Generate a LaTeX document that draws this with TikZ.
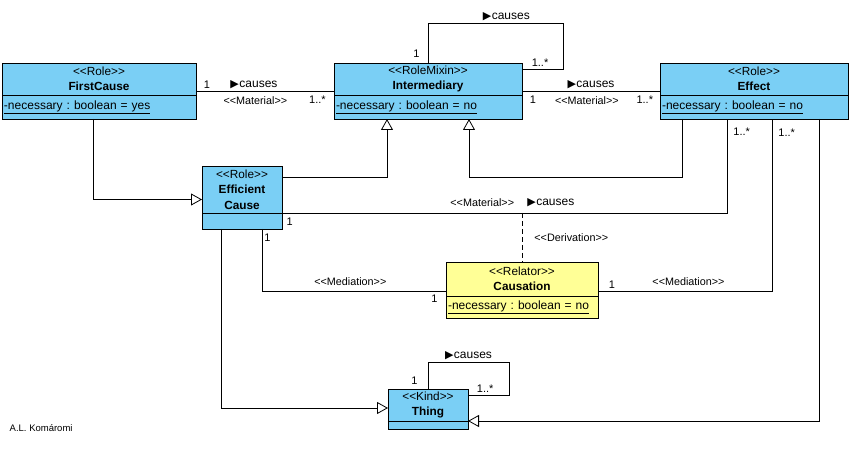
\documentclass[tikz,border=0pt]{standalone}
\usepackage{fontspec}
\setmainfont{Liberation Sans}
\newfontfamily\symfont{DejaVu Sans}
\usetikzlibrary{arrows.meta,positioning}
\definecolor{roleblue}{RGB}{122,207,245}
\definecolor{relatoryellow}{RGB}{255,255,150}
\newcommand{\stereo}[1]{<\kern0pt<#1>\kern0pt>}
\newcommand{\causes}{{\symfont\fontsize{11}{11}\selectfont ▶}\kern0.5pt causes}
\frenchspacing
\tikzset{
    head/.style={draw,fill=#1,anchor=north west,align=center,inner sep=1pt,outer sep=0pt,font=\fontsize{11.8}{15.5}\selectfont},
    head/.default=roleblue,
    attr/.style={draw,fill=#1,align=left,inner xsep=2pt,inner ysep=0pt,outer sep=0pt,font=\fontsize{12}{13}\selectfont},
    attr/.default=roleblue,
    gen/.style={-{Triangle[open,length=11pt,width=12pt]}},
    mult/.style={font=\fontsize{11}{12}\selectfont,inner sep=2pt},
    stlabel/.style={font=\fontsize{10.8}{12}\selectfont,inner sep=2pt},
    rel/.style={font=\fontsize{12}{13}\selectfont,inner sep=2pt}
}

\begin{document}
\begin{tikzpicture}[x=1pt,y=-1pt,line width=0.8pt]
    \useasboundingbox (0,0) rectangle (852,454);

    \node[head,minimum width=194,minimum height=32] (firstcause) at (2,63)
        {\stereo{Role}\\\textbf{FirstCause}};
    \node[attr,text width=190,minimum height=24,below=0pt of firstcause] (firstcause attr)
        {\underline{-necessary : boolean = yes}};

    \node[head,minimum width=188,minimum height=32] (inter) at (334,63)
        {\stereo{RoleMixin}\\\textbf{Intermediary}};
    \node[attr,text width=184,minimum height=24,below=0pt of inter] (inter attr)
        {\underline{-necessary : boolean = no}};

    \node[head,minimum width=188,minimum height=32] (effect) at (660,63)
        {\stereo{Role}\\\textbf{Effect}};
    \node[attr,text width=184,minimum height=24,below=0pt of effect] (effect attr)
        {\underline{-necessary : boolean = no}};

    \node[head,minimum width=80,minimum height=47] (efficient) at (202,166)
        {\stereo{Role}\\\textbf{Efficient}\\\textbf{Cause}};
    \node[attr,text width=76,minimum height=16,below=0pt of efficient] (efficient attr) {};

    \node[head=relatoryellow,minimum width=152,minimum height=34] (causation) at (446,262)
        {\stereo{Relator}\\\textbf{Causation}};
    \node[attr=relatoryellow,text width=148,minimum height=22,below=0pt of causation] (causation attr)
        {\underline{-necessary : boolean = no}};

    \node[head,minimum width=80,minimum height=32] (thing) at (388,389)
        {\stereo{Kind}\\\textbf{Thing}};
    \node[attr,text width=76,minimum height=8,below=0pt of thing] (thing attr) {};

    \node[font=\fontsize{9.5}{10}\selectfont,anchor=west] (author) at (6,428) {A.L. Komáromi};

    % associations
    \draw ([yshift=-12pt]firstcause.east) -- ([yshift=-12pt]inter.west)
        node[mult,pos=0.08,above] {1}
        node[rel,pos=0.42,above] {\causes}
        node[stlabel,pos=0.43,below=3pt] {\stereo{Material}}
        node[mult,pos=0.88,below=3pt] {1..*};
    \draw ([yshift=-12pt]inter.east) -- ([yshift=-12pt]effect.west)
        node[rel,pos=0.5,above] {\causes}
        node[mult,pos=0.08,below=3pt] {1}
        node[stlabel,pos=0.47,below=3pt] {\stereo{Material}}
        node[mult,pos=0.89,below=3pt] {1..*};
    \draw (inter.north) |- ++(135,-40)
            node[mult,pos=0.12,left=6pt] {1}
            node[rel,pos=0.79,above] {\causes}
        |- ([yshift=10pt]inter.east)
            node[mult,pos=0.78,above] {1..*};
    \draw (efficient.south east) -| ([xshift=-27pt]effect attr.south)
        node[stlabel,pos=0.225,above=4pt] {\stereo{Material}}
        node[rel,pos=0.302,above=4pt] {\causes}
        node[mult,pos=0,below right=3pt] {1}
        node[mult,pos=0.93,right=4pt] {1..*};
    \draw[dash pattern=on 5pt off 3pt] (causation.north |- efficient.south east) -- (causation.north)
        node[stlabel,midway,right=10pt] {\stereo{Derivation}};
    \draw ([xshift=20pt]efficient attr.south) |- ([yshift=-12pt]causation.west)
        node[mult,pos=0.07,right] {1}
        node[stlabel,pos=0.74,above=3pt] {\stereo{Mediation}}
        node[mult,pos=1,below left=2pt and 6pt] {1};
    \draw ([yshift=-12pt]causation.east) -| ([xshift=18pt]effect attr.south)
        node[mult,pos=0.04,above] {1}
        node[stlabel,pos=0.26,above=3pt] {\stereo{Mediation}}
        node[mult,pos=0.96,right=4pt] {1..*};
    \draw (thing.north) |- ++(81,-27)
            node[mult,pos=0.15,left=8pt] {1}
            node[rel,pos=0.75,above] {\causes}
        |- ([yshift=10pt]thing.east)
            node[mult,pos=0.79,above] {1..*};

    % generalizations
    \draw[gen] ([xshift=-6pt]firstcause attr.south) |- ([yshift=-10pt]efficient.west);
    \draw[gen] ([yshift=12pt]efficient.east) -| ([xshift=-41pt]inter attr.south);
    \draw[gen] ([xshift=-72pt]effect attr.south) -- ++(0,58) -| ([xshift=41pt]inter attr.south);
    \draw[gen] ([xshift=65pt]effect attr.south) |- (thing.south east);
    \draw[gen] ([xshift=-21pt]efficient attr.south) |- ([yshift=-3pt]thing.west);
\end{tikzpicture}
\end{document}
